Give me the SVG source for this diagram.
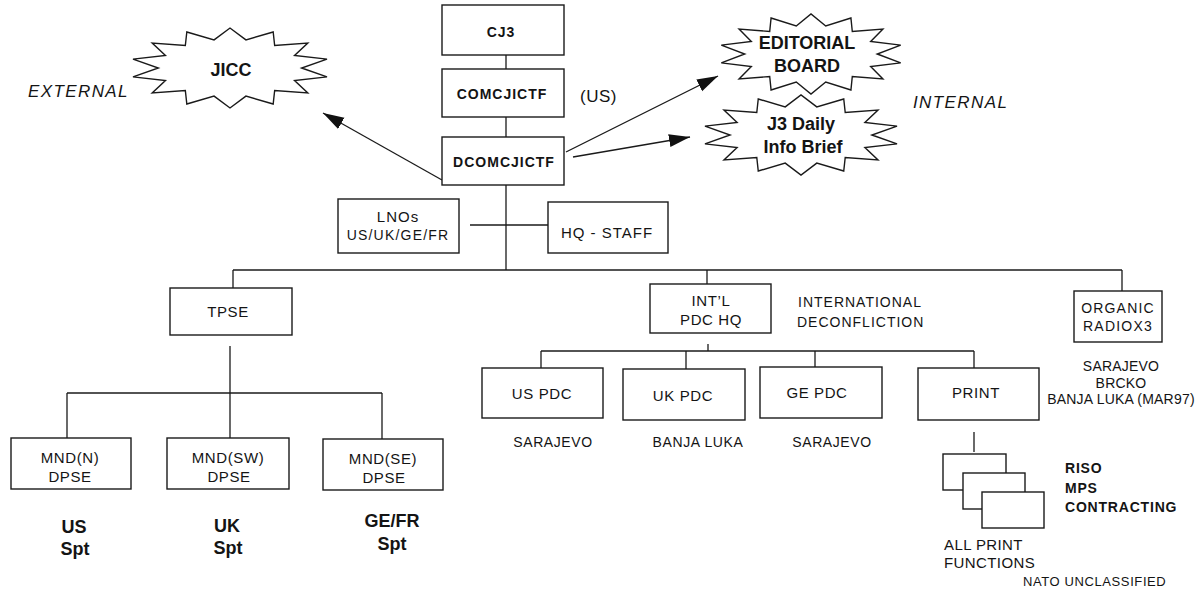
<svg xmlns="http://www.w3.org/2000/svg" xmlns:xlink="http://www.w3.org/1999/xlink" width="1201" height="591" viewBox="0 0 1201 591">
<style>
  .box { fill: #fff; stroke: #1a1a1a; stroke-width: 1.4; }
  .star { fill: #fff; stroke: #1a1a1a; stroke-width: 1.4; }
  .ln { fill: none; stroke: #1a1a1a; stroke-width: 1.3; }
  text { font-family: "Liberation Sans", Arial, sans-serif; fill: #141414; }
  .t { font-size: 15px; letter-spacing: 0.6px; text-anchor: middle; }
  .tb { font-size: 14px; font-weight: bold; letter-spacing: 1px; text-anchor: middle; }
  .big { font-size: 18px; font-weight: bold; text-anchor: middle; }
  .it { font-size: 17px; font-style: italic; letter-spacing: 1.4px; }
  .loc { font-size: 14px; letter-spacing: 0.6px; text-anchor: middle; }
  .side { font-size: 14px; letter-spacing: 1px; }
</style>
<defs>
  <polygon id="starshape" vector-effect="non-scaling-stroke" points="72,0 97.49,22.25 64.87,31.24 78.18,62.35 44.89,56.29 43.39,90.10 16.02,70.19 0,100 -16.02,70.19 -43.39,90.10 -44.89,56.29 -78.18,62.35 -64.87,31.24 -97.49,22.25 -72,0 -97.49,-22.25 -64.87,-31.24 -78.18,-62.35 -44.89,-56.29 -43.39,-90.10 -16.02,-70.19 0,-100 16.02,-70.19 43.39,-90.10 44.89,-56.29 78.18,-62.35 64.87,-31.24 97.49,-22.25"/>
  <marker id="arr" markerUnits="userSpaceOnUse" markerWidth="22" markerHeight="14" refX="21" refY="6.5" orient="auto">
    <path d="M0,0 L21,6.5 L0,13 z" fill="#111"/>
  </marker>
</defs>

<g id="connectors">
  <line class="ln" x1="506" y1="55" x2="506" y2="69"/>
  <line class="ln" x1="506" y1="117" x2="506" y2="137"/>
  <line class="ln" x1="506" y1="185" x2="506" y2="270"/>
  <line class="ln" x1="470" y1="225" x2="548" y2="225"/>
  <line class="ln" x1="233" y1="270" x2="1122" y2="270"/>
  <line class="ln" x1="233" y1="270" x2="233" y2="288"/>
  <line class="ln" x1="707" y1="270" x2="707" y2="284"/>
  <line class="ln" x1="1122" y1="270" x2="1122" y2="291"/>
  <line class="ln" x1="230" y1="346" x2="230" y2="438"/>
  <line class="ln" x1="67" y1="393" x2="382" y2="393"/>
  <line class="ln" x1="67" y1="393" x2="67" y2="438"/>
  <line class="ln" x1="382" y1="393" x2="382" y2="439"/>
  <line class="ln" x1="708" y1="344" x2="708" y2="351"/>
  <line class="ln" x1="541" y1="351" x2="974" y2="351"/>
  <line class="ln" x1="541" y1="351" x2="541" y2="368"/>
  <line class="ln" x1="686" y1="351" x2="686" y2="369"/>
  <line class="ln" x1="815" y1="351" x2="815" y2="367"/>
  <line class="ln" x1="974" y1="351" x2="974" y2="368"/>
  <line class="ln" x1="974" y1="432" x2="974" y2="452"/>
  <line class="ln" x1="442" y1="180" x2="323" y2="113" marker-end="url(#arr)"/>
  <line class="ln" x1="566" y1="152" x2="718" y2="76" marker-end="url(#arr)"/>
  <line class="ln" x1="573" y1="157" x2="690" y2="137" marker-end="url(#arr)"/>
</g>

<g id="cj3"><rect class="box" x="442" y="5" width="122" height="50"/><text class="tb" x="501" y="37">CJ3</text></g>
<g id="comcjictf"><rect class="box" x="442" y="69" width="122" height="48"/><text class="tb" x="502" y="99">COMCJICTF</text></g>
<g id="dcomcjictf"><rect class="box" x="442" y="137" width="122" height="48"/><text class="tb" x="504" y="167">DCOMCJICTF</text></g>
<g id="us-label"><text x="580" y="102" style="font-size:17px;letter-spacing:0.5px">(US)</text></g>

<g id="external"><text class="it" x="28" y="97">EXTERNAL</text></g>
<g id="internal"><text class="it" x="913" y="108">INTERNAL</text></g>

<g id="jicc">
  <use xlink:href="#starshape" class="star" transform="translate(230,68) scale(0.995,0.40)"/>
  <text class="big" x="231" y="76">JICC</text>
</g>
<g id="editorial-board">
  <use xlink:href="#starshape" class="star" transform="translate(811,54) scale(0.92,0.40)"/>
  <text class="big" x="807" y="49">EDITORIAL</text>
  <text class="big" x="807" y="72">BOARD</text>
</g>
<g id="j3-daily">
  <use xlink:href="#starshape" class="star" transform="translate(801,135) scale(0.985,0.40)"/>
  <text class="big" x="801" y="130">J3 Daily</text>
  <text class="big" x="803" y="153">Info Brief</text>
</g>

<g id="lnos"><rect class="box" x="338" y="199" width="121" height="54"/>
  <text class="t" x="398" y="222" style="letter-spacing:1px">LNOs</text>
  <text class="t" x="398" y="240" style="font-size:14px;letter-spacing:1.2px">US/UK/GE/FR</text></g>
<g id="hq-staff"><rect class="box" x="548" y="202" width="120" height="51"/><text class="t" x="607" y="238" style="letter-spacing:1px">HQ - STAFF</text></g>

<g id="tpse"><rect class="box" x="170" y="288" width="122" height="47"/><text class="t" x="228" y="317">TPSE</text></g>
<g id="mnd-n"><rect class="box" x="11" y="438" width="120" height="51"/>
  <text class="t" x="70" y="463">MND(N)</text><text class="t" x="70" y="482">DPSE</text>
  <text class="big" x="74" y="533">US</text><text class="big" x="75" y="555">Spt</text></g>
<g id="mnd-sw"><rect class="box" x="167" y="438" width="122" height="51"/>
  <text class="t" x="228" y="463">MND(SW)</text><text class="t" x="229" y="482">DPSE</text>
  <text class="big" x="227" y="532">UK</text><text class="big" x="228" y="554">Spt</text></g>
<g id="mnd-se"><rect class="box" x="323" y="439" width="120" height="51"/>
  <text class="t" x="383" y="464">MND(SE)</text><text class="t" x="384" y="483">DPSE</text>
  <text class="big" x="392" y="527">GE/FR</text><text class="big" x="392" y="550">Spt</text></g>

<g id="intl-pdc-hq"><rect class="box" x="650" y="284" width="121" height="49"/>
  <text class="t" x="711" y="306">INT’L</text><text class="t" x="711" y="325">PDC HQ</text></g>
<g id="intl-deconfliction">
  <text class="side" x="798" y="307">INTERNATIONAL</text>
  <text class="side" x="797" y="327">DECONFLICTION</text></g>

<g id="organic-radio"><rect class="box" x="1074" y="291" width="88" height="51"/>
  <text class="t" x="1118" y="313" style="font-size:14px;letter-spacing:1.2px">ORGANIC</text>
  <text class="t" x="1118" y="331" style="font-size:14px;letter-spacing:1.2px">RADIOX3</text>
  <text class="loc" x="1121" y="371" style="letter-spacing:0.2px">SARAJEVO</text>
  <text class="loc" x="1121" y="388" style="letter-spacing:0.2px">BRCKO</text>
  <text class="loc" x="1121" y="404" style="letter-spacing:0.2px">BANJA LUKA (MAR97)</text></g>

<g id="us-pdc"><rect class="box" x="482" y="368" width="121" height="50"/><text class="t" x="542" y="399">US PDC</text>
  <text class="loc" x="553" y="447">SARAJEVO</text></g>
<g id="uk-pdc"><rect class="box" x="623" y="369" width="122" height="51"/><text class="t" x="683" y="401">UK PDC</text>
  <text class="loc" x="698" y="447">BANJA LUKA</text></g>
<g id="ge-pdc"><rect class="box" x="760" y="367" width="122" height="51"/><text class="t" x="817" y="398">GE PDC</text>
  <text class="loc" x="832" y="447">SARAJEVO</text></g>
<g id="print"><rect class="box" x="918" y="368" width="121" height="52"/><text class="t" x="976" y="398">PRINT</text></g>

<g id="all-print-functions">
  <rect class="box" x="943" y="454" width="63" height="36"/>
  <rect class="box" x="963" y="473" width="62" height="36"/>
  <rect class="box" x="982" y="492" width="62" height="36"/>
  <text x="944" y="550" style="font-size:15px;letter-spacing:0.4px">ALL PRINT</text>
  <text x="944" y="568" style="font-size:15px;letter-spacing:0.4px">FUNCTIONS</text>
  <text x="1065" y="473" style="font-size:14px;font-weight:bold;letter-spacing:0.8px">RISO</text>
  <text x="1065" y="493" style="font-size:14px;font-weight:bold;letter-spacing:0.8px">MPS</text>
  <text x="1065" y="512" style="font-size:14px;font-weight:bold;letter-spacing:0.8px">CONTRACTING</text>
</g>
<g id="classification"><text x="1023" y="586" style="font-size:13px;letter-spacing:0.6px">NATO UNCLASSIFIED</text></g>
</svg>
